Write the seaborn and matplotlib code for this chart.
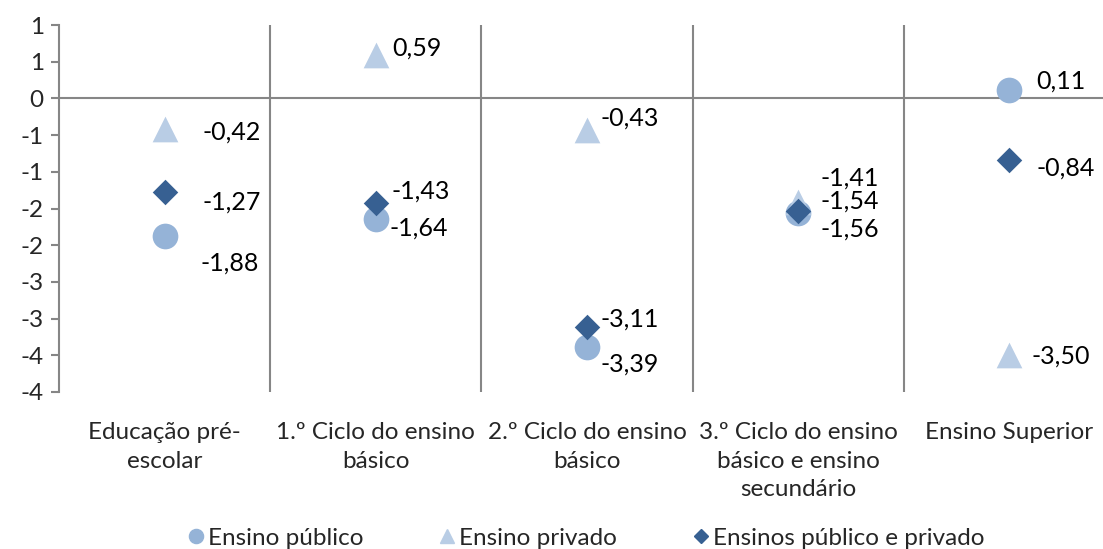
import numpy as np
import pandas as pd
import matplotlib.pyplot as plt
import seaborn as sns
from matplotlib.lines import Line2D

# categories and series
categorias = ["Educação pré-\nescolar", "1.º Ciclo do ensino\nbásico",
              "2.º Ciclo do ensino\nbásico",
              "3.º Ciclo do ensino\nbásico e ensino\nsecundário",
              "Ensino Superior"]
ensino_publico = [-1.88, -1.64, -3.39, -1.56, 0.11]
ensino_privado = [-0.42, 0.59, -0.43, -1.41, -3.50]
ensinos_ambos = [-1.27, -1.43, -3.11, -1.54, -0.84]
series_nomes = ["Ensino público", "Ensino privado", "Ensinos público e privado"]
y_ticks = np.arange(-4, 1.01, 0.5)

# style per series
cores = {"Ensino público": "#95B3D7", "Ensino privado": "#B9CDE5",
         "Ensinos público e privado": "#376092"}
marcadores = {"Ensino público": "o", "Ensino privado": "^",
              "Ensinos público e privado": "D"}
tamanhos = {"Ensino público": 18.5, "Ensino privado": 18.5,
            "Ensinos público e privado": 13}
# label offsets in pixels (dx, dy)
offsets = {
    "Ensino público": [(36, -27), (14, -9), (13, -17), (22, -16), (27, 9)],
    "Ensino privado": [(38, -3), (16, 7), (13, 12), (22, 24), (22, -1)],
    "Ensinos público e privado": [(38, -10), (16, 12), (13, 8), (22, 10), (27, -8)],
}

df = pd.DataFrame({
    "categoria": categorias * 3,
    "valor": ensino_publico + ensino_privado + ensinos_ambos,
    "serie": np.repeat(series_nomes, len(categorias)),
})

sns.set_style("white")
plt.rcParams["font.family"] = ["Lato", "DejaVu Sans"]

fig = plt.figure(figsize=(11.03, 5.49), dpi=100)
ax = fig.add_axes([59 / 1103, 1 - 392 / 549, 1056 / 1103, 367 / 549])

for nome in series_nomes:
    sub = df[df["serie"] == nome]
    sns.scatterplot(data=sub, x="categoria", y="valor", ax=ax,
                    marker=marcadores[nome], color=cores[nome],
                    s=tamanhos[nome] ** 2, linewidth=0, zorder=3)
    for i, (cat, v) in enumerate(zip(sub["categoria"], sub["valor"])):
        dx, dy = offsets[nome][i]
        ax.annotate(f"{v:.2f}".replace(".", ","), (i, v), xytext=(dx, dy),
                    textcoords="offset pixels", ha="left", va="center",
                    fontsize=18, color="black", zorder=4)

ax.set_xlim(-0.5, 4.5)
ax.set_ylim(-4, 1)

gris = "#868686"
for xb in [0.5, 1.5, 2.5, 3.5]:
    ax.axvline(xb, color=gris, lw=1.5, zorder=1)
ax.axhline(0, color=gris, lw=1.5, zorder=1)

for s in ["top", "right", "bottom"]:
    ax.spines[s].set_visible(False)
ax.spines["left"].set_color(gris)
ax.spines["left"].set_linewidth(1.5)

def rotulo(v):
    r = int(np.floor(abs(v) + 0.5))
    return str(-r if v < 0 else r)

ax.set_yticks(y_ticks)
ax.set_yticklabels([rotulo(v) for v in y_ticks])
ax.tick_params(axis="y", left=True, length=6, width=1.5, color=gris,
               labelsize=17.5, pad=5)
ax.tick_params(axis="x", bottom=False, labelsize=17.5, pad=18)
for t in ax.get_xticklabels():
    t.set_linespacing(1.45)
ax.set_xlabel("")
ax.set_ylabel("")

handles = [Line2D([], [], marker=marcadores[n], color=cores[n], linestyle="",
                  markersize=tamanhos[n] * 0.55) for n in series_nomes]
fig.legend(handles, series_nomes, loc="center", ncol=3, frameon=False,
           fontsize=17.5, bbox_to_anchor=(0.53, 1 - 538 / 549),
           columnspacing=3.0, handletextpad=0.05, handlelength=0.9)

fig.savefig("out.png", dpi=100)
